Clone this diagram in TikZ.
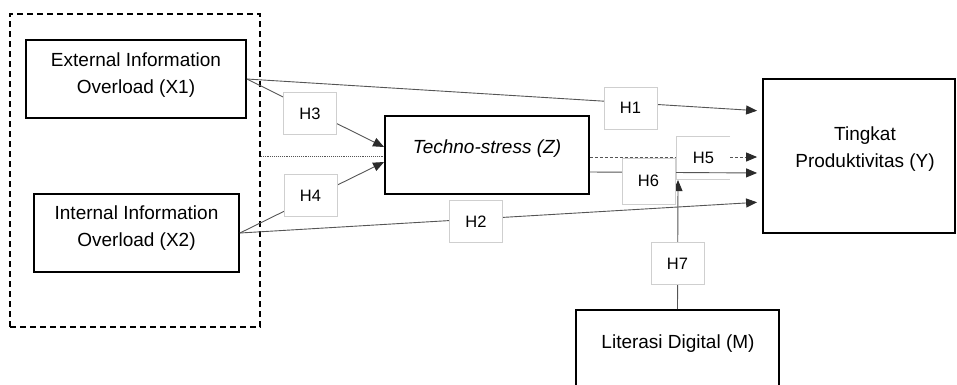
\documentclass[tikz,border=0pt]{standalone}
\usepackage{fontspec}
\setmainfont{Liberation Sans}
\usetikzlibrary{arrows.meta}
\definecolor{conncol}{HTML}{555555}
\definecolor{tipcol}{HTML}{2B2B2B}
\definecolor{hcol}{HTML}{CFCFCF}
\tikzset{
  box/.style={draw=black, line width=1.8pt, fill=white, inner sep=0pt},
  txt/.style={align=center, font=\fontsize{19}{27}\selectfont, inner sep=0pt},
  hbox/.style={draw=hcol, line width=0.9pt, fill=white, inner sep=0pt,
    minimum width=53pt, minimum height=42pt, font=\fontsize{16.5}{19}\selectfont},
  conn/.style={draw=conncol, line width=0.9pt},
  tipped/.style={-{Triangle[length=11pt,width=9pt,color=tipcol]}},
}
\begin{document}
\begin{tikzpicture}[x=1pt,y=-1pt]
\useasboundingbox (0,0) rectangle (957,384);
% group box
\node[draw=black, line width=1.7pt, dash pattern=on 6pt off 4pt, minimum width=250pt, minimum height=313pt, inner sep=0pt] (grp) at (135,170.5) {};
% boxes
\node[box, minimum width=220pt, minimum height=78pt] (X1) at (136,79) {};
\node[txt] at (136,75) {External Information\\Overload (X1)};
\node[box, minimum width=205pt, minimum height=78pt] (X2) at (136.5,233) {};
\node[txt] at (136.5,228) {Internal Information\\Overload (X2)};
\node[box, minimum width=204pt, minimum height=78pt] (Z) at (487,155) {};
\node[txt, font=\fontsize{19}{27}\selectfont\itshape] at (487,149) {Techno-stress (Z)};
\node[box, minimum width=192pt, minimum height=154pt] (Y) at (859,156) {};
\node[txt] at (865,149) {Tingkat\\Produktivitas (Y)};
\node[box, minimum width=203pt, minimum height=90pt] (M) at (677.5,355) {};
\node[txt] at (678,344) {Literasi Digital (M)};
% connectors
\coordinate (dbx) at ([yshift=14.5pt]grp.east);
\draw[conn, densely dotted] (dbx) -- ([yshift=-1pt]Z.west);
\draw[conn, tipped] (X1.east) -- ([yshift=8pt]Z.west);
\draw[conn, tipped] (X2.east) -- ([yshift=-7pt]Z.west);
\draw[conn, tipped, shorten >=5pt] (X1.east) -- ([yshift=45pt]Y.west);
\draw[conn, tipped, shorten >=5pt] (X2.east) -- ([yshift=-46pt]Y.west);
\draw[conn, densely dashed, tipped, shorten >=5pt] ([yshift=-2pt]Z.east) -- ([yshift=-1pt]Y.west);
% H5 box (partial border)
\node[fill=white, inner sep=0pt, minimum width=53pt, minimum height=42pt, font=\fontsize{16.5}{19}\selectfont] (H5) at (703.5,158) {H5};
\draw[hcol, line width=0.9pt] (H5.north east) -- (H5.north west) -- (H5.south west) -- (H5.south east);
\draw[conn, tipped, shorten >=5pt] ([yshift=-17pt]Z.east) -- ([yshift=-17pt]Y.west);
\coordinate (m7) at (678,180);
\draw[conn, tipped] (M.north) -- (m7);
% labels
\node[hbox] (H3) at (310,113.5) {H3};
\node[hbox] (H4) at (310.5,195.5) {H4};
\node[hbox] (H2) at (476,221.5) {H2};
\node[hbox] (H1) at (630.5,108) {H1};
\node[hbox, minimum height=46pt] (H6) at (648.5,181) {H6};
\node[hbox] (H7) at (677.5,263.5) {H7};
\end{tikzpicture}
\end{document}
